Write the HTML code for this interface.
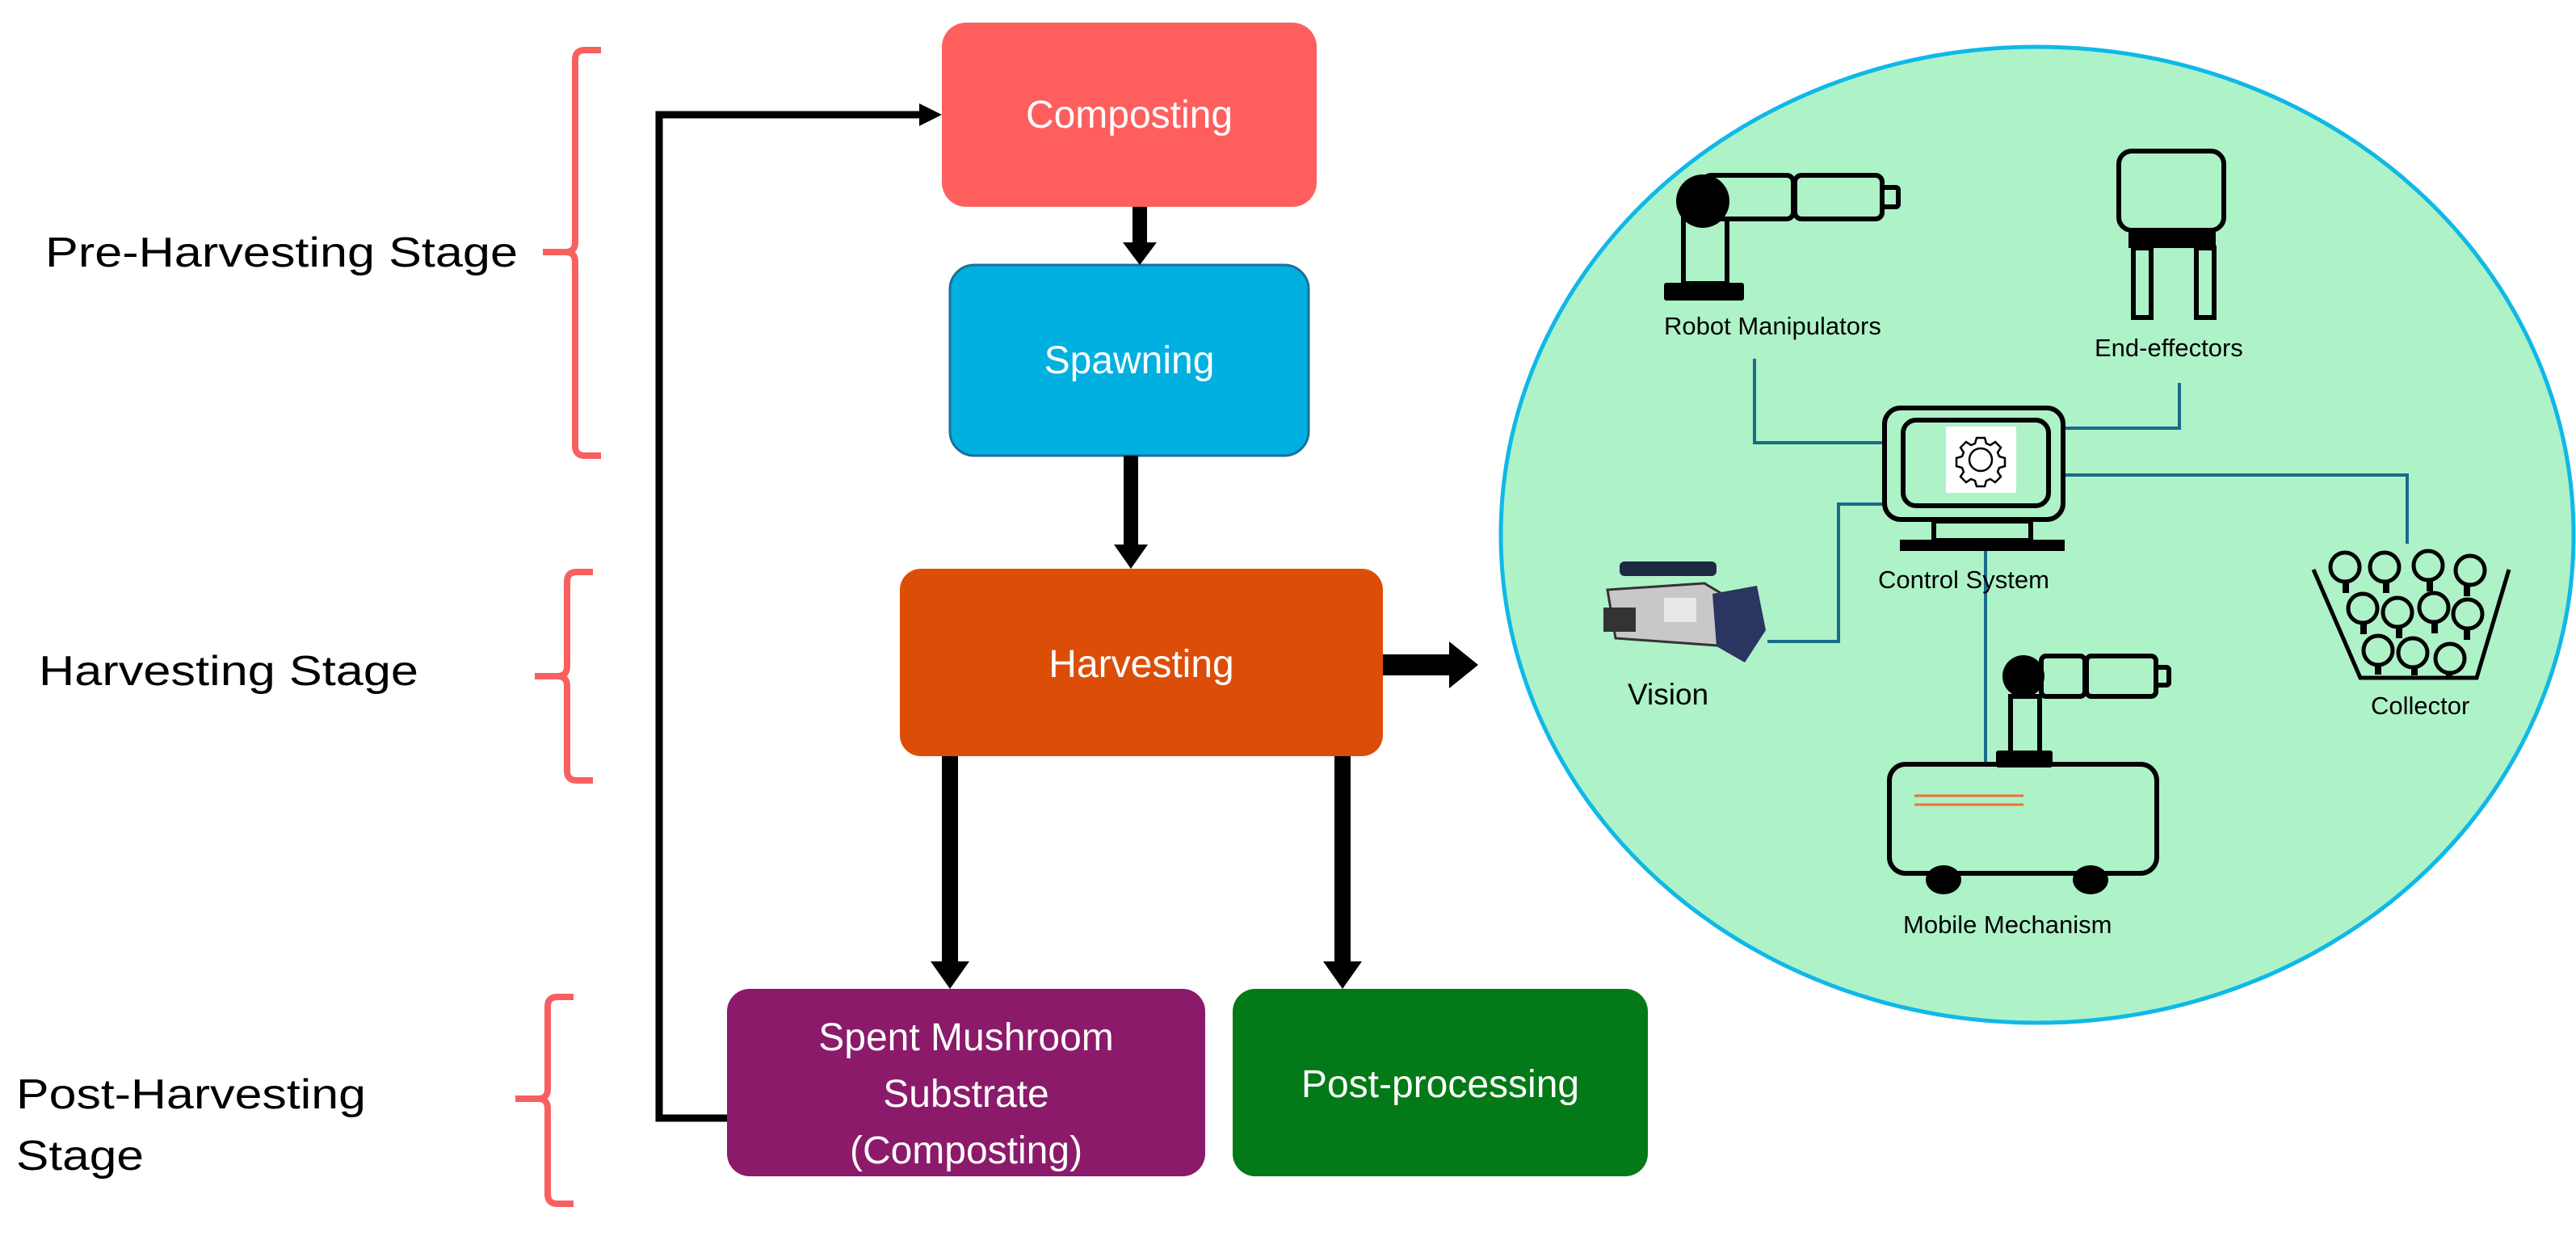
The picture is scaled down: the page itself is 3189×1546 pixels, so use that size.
<!DOCTYPE html>
<html><head><meta charset="utf-8"><style>
html,body{margin:0;padding:0;background:#fff;overflow:hidden}
svg{display:block}
text{font-family:"Liberation Sans",sans-serif}
</style></head><body>
<svg width="3189" height="1546" viewBox="0 0 3189 1546" xmlns="http://www.w3.org/2000/svg">
<!-- stage labels -->
<g font-size="52" fill="#000">
<text x="56" y="330" textLength="585" lengthAdjust="spacingAndGlyphs">Pre-Harvesting Stage</text>
<text x="48" y="848" textLength="470" lengthAdjust="spacingAndGlyphs">Harvesting Stage</text>
<text x="20" y="1372" textLength="433" lengthAdjust="spacingAndGlyphs">Post-Harvesting</text>
<text x="20" y="1448" textLength="158" lengthAdjust="spacingAndGlyphs">Stage</text>
</g>
<!-- brackets -->
<g fill="none" stroke="#f86060" stroke-width="8">
<path d="M744,62 H724 Q712,62 712,74 V300 Q712,312 700,312 H672 M700,312 Q712,312 712,324 V552 Q712,564 724,564 H744"/>
<path d="M734,708 H714 Q702,708 702,720 V825 Q702,837 690,837 H662 M690,837 Q702,837 702,849 V954 Q702,966 714,966 H734"/>
<path d="M710,1234 H690 Q678,1234 678,1246 V1348 Q678,1360 666,1360 H638 M666,1360 Q678,1360 678,1372 V1478 Q678,1490 690,1490 H710"/>
</g>
<!-- boxes -->
<rect x="1166" y="28" width="464" height="228" rx="30" fill="#fe5f5e"/>
<rect x="1176" y="328" width="444" height="236" rx="30" fill="#00b0e0" stroke="#1b6f9a" stroke-width="3"/>
<rect x="1114" y="704" width="598" height="232" rx="26" fill="#dc4e07"/>
<rect x="900" y="1224" width="592" height="232" rx="28" fill="#8c1a6a"/>
<rect x="1526" y="1224" width="514" height="232" rx="28" fill="#037a17"/>
<g fill="#fff" font-size="48" text-anchor="middle">
<text x="1398" y="158">Composting</text>
<text x="1398" y="462">Spawning</text>
<text x="1413" y="838">Harvesting</text>
<text x="1196" y="1300">Spent Mushroom</text>
<text x="1196" y="1370">Substrate</text>
<text x="1196" y="1440">(Composting)</text>
<text x="1783" y="1358">Post-processing</text>
</g>
<!-- connectors -->
<g stroke="#000" fill="#000">
<polyline points="900,1384 816,1384 816,142 1140,142" fill="none" stroke-width="9"/>
<path d="M1138,128 L1166,142 L1138,156 z" stroke="none"/>
<rect x="1402" y="256" width="18" height="46" stroke="none"/>
<path d="M1390,300 L1432,300 L1411,328 z" stroke="none"/>
<rect x="1391" y="564" width="18" height="112" stroke="none"/>
<path d="M1379,674 L1421,674 L1400,704 z" stroke="none"/>
<rect x="1166" y="936" width="20" height="256" stroke="none"/>
<path d="M1152,1190 L1200,1190 L1176,1224 z" stroke="none"/>
<rect x="1652" y="936" width="20" height="256" stroke="none"/>
<path d="M1638,1190 L1686,1190 L1662,1224 z" stroke="none"/>
<rect x="1712" y="810" width="86" height="26" stroke="none"/>
<path d="M1794,794 L1830,823 L1794,852 z" stroke="none"/>
</g>
<!-- circle -->
<ellipse cx="2522" cy="662" rx="664" ry="604" fill="#aef2c8" stroke="#10b8e8" stroke-width="5"/>
<!-- connecting lines -->
<g fill="none" stroke="#1a6a8a" stroke-width="4">
<polyline points="2172,444 2172,548 2331,548"/>
<polyline points="2698,474 2698,530 2556,530"/>
<polyline points="2556,588 2980,588 2980,673"/>
<polyline points="2331,624 2276,624 2276,794 2188,794"/>
<line x1="2458" y1="674" x2="2458" y2="943"/>
</g>
<!-- robot manipulator -->
<g fill="none" stroke="#000" stroke-width="6">
<rect x="2110" y="217" width="110" height="54" rx="8"/>
<rect x="2222" y="217" width="108" height="54" rx="8"/>
<rect x="2330" y="232" width="20" height="24" rx="3"/>
<rect x="2084" y="271" width="54" height="80"/>
</g>
<circle cx="2108" cy="249" r="33" fill="#000"/>
<rect x="2060" y="350" width="99" height="22" rx="3" fill="#000"/>
<!-- end effector -->
<g fill="none" stroke="#000" stroke-width="6">
<rect x="2623" y="187" width="130" height="98" rx="16"/>
<rect x="2641" y="307" width="22" height="86"/>
<rect x="2719" y="307" width="22" height="86"/>
</g>
<rect x="2635" y="285" width="108" height="22" fill="#000"/>
<!-- control system -->
<g fill="none" stroke="#000" stroke-width="6">
<rect x="2333" y="505" width="221" height="138" rx="20"/>
<rect x="2356" y="520" width="180" height="106" rx="16"/>
<rect x="2394" y="645" width="120" height="24"/>
</g>
<rect x="2352" y="668" width="204" height="14" fill="#000"/>
<rect x="2409" y="528" width="87" height="82" fill="#fff"/>
<g transform="translate(2452,569)" fill="none" stroke="#000" stroke-width="2.5">
<path d="M-5,-27 h10 l2,7 5,2 6,-4 7,7 -4,6 2,5 7,2 v10 l-7,2 -2,5 4,6 -7,7 -6,-4 -5,2 -2,7 h-10 l-2,-7 -5,-2 -6,4 -7,-7 4,-6 -2,-5 -7,-2 v-10 l7,-2 2,-5 -4,-6 7,-7 6,4 5,-2 z"/>
<circle r="14"/>
</g>
<!-- vision camera -->
<g>
<rect x="2005" y="695" width="120" height="18" rx="6" fill="#1e2a44"/>
<path d="M1990,730 L2110,722 L2140,740 L2140,800 L2000,790 Z" fill="#c8c8c8" stroke="#333" stroke-width="3"/>
<rect x="1985" y="752" width="40" height="30" fill="#333"/>
<path d="M2120,735 L2175,725 L2186,780 L2160,820 L2125,800 Z" fill="#2a3560"/>
<rect x="2060" y="740" width="40" height="30" fill="#e8e8e8"/>
</g>
<!-- collector -->
<path d="M2864,705 L2922,839 L3066,839 L3106,705" fill="none" stroke="#000" stroke-width="5"/>
<g fill="none" stroke="#000" stroke-width="5">
<circle cx="2903" cy="702" r="18"/><circle cx="2952" cy="702" r="18"/><circle cx="3006" cy="700" r="18"/><circle cx="3058" cy="706" r="18"/>
<circle cx="2925" cy="753" r="18"/><circle cx="2968" cy="758" r="18"/><circle cx="3013" cy="752" r="18"/><circle cx="3055" cy="760" r="18"/>
<circle cx="2944" cy="805" r="18"/><circle cx="2987" cy="808" r="18"/><circle cx="3033" cy="815" r="18"/>
</g>
<g fill="#000">
<rect x="2900" y="720" width="8" height="14"/><rect x="2950" y="720" width="8" height="14"/><rect x="3004" y="718" width="8" height="14"/><rect x="3050" y="724" width="8" height="14"/>
<rect x="2922" y="771" width="8" height="14"/><rect x="2966" y="776" width="8" height="14"/><rect x="3010" y="770" width="8" height="14"/><rect x="3050" y="778" width="8" height="14"/>
<rect x="2940" y="823" width="8" height="12"/><rect x="2985" y="826" width="8" height="10"/><rect x="3028" y="833" width="8" height="6"/>
</g>
<!-- mobile mechanism -->
<g fill="none" stroke="#000" stroke-width="6">
<rect x="2339" y="946" width="331" height="135" rx="20"/>
<rect x="2527" y="812" width="54" height="50" rx="6"/>
<rect x="2583" y="812" width="86" height="50" rx="6"/>
<rect x="2669" y="826" width="16" height="22" rx="3"/>
<rect x="2489" y="862" width="36" height="70"/>
</g>
<circle cx="2505" cy="837" r="26" fill="#000"/>
<rect x="2471" y="929" width="70" height="21" rx="3" fill="#000"/>
<ellipse cx="2406" cy="1089" rx="22" ry="18" fill="#000"/>
<ellipse cx="2588" cy="1089" rx="22" ry="18" fill="#000"/>
<line x1="2370" y1="985" x2="2505" y2="985" stroke="#f07030" stroke-width="3"/>
<line x1="2370" y1="996" x2="2505" y2="996" stroke="#f07030" stroke-width="3"/>
<!-- labels in circle -->
<g font-size="31" fill="#000">
<text x="2060" y="414">Robot Manipulators</text>
<text x="2593" y="441">End-effectors</text>
<text x="2325" y="728">Control System</text>
<text x="2935" y="884">Collector</text>
<text x="2356" y="1155">Mobile Mechanism</text>
<text x="2015" y="872" font-size="37">Vision</text>
</g>
</svg>
</body></html>
